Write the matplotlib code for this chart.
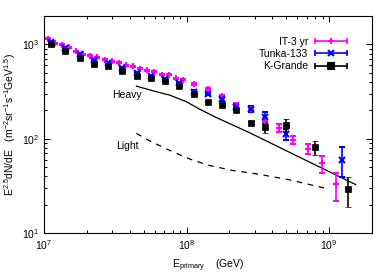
import matplotlib
matplotlib.use('Agg')
import matplotlib.pyplot as plt
import numpy as np
from matplotlib.lines import Line2D
from matplotlib.legend_handler import HandlerLine2D, HandlerTuple

plt.rcParams['font.family'] = ['Liberation Sans', 'DejaVu Sans']
plt.rcParams['mathtext.fontset'] = 'custom'
plt.rcParams['mathtext.rm'] = 'Liberation Sans'
plt.rcParams['mathtext.it'] = 'Liberation Sans:italic'
plt.rcParams['font.size'] = 7.5

# IceTop 3 yr (log10 E/GeV, flux)
it_logE = [7.025, 7.075, 7.125, 7.175, 7.225, 7.275, 7.325, 7.375, 7.425, 7.475,
           7.525, 7.575, 7.625, 7.675, 7.725, 7.775, 7.825, 7.875, 7.925, 7.975,
           8.05, 8.15, 8.25, 8.35, 8.45, 8.55, 8.65, 8.75, 8.85, 8.95, 9.05]
it_flux = [1148, 1032, 993, 929, 843, 790, 760, 729, 690, 662,
           636, 601, 586, 552, 529, 514, 479, 477, 437, 422,
           377, 333, 283, 228, 205, 155, 131, 97.5, 78.5, 54.6, 32.8]
it_err = [15, 14, 13, 12, 11, 10, 10, 9, 9, 8,
          8, 8, 7, 7, 7, 7, 6, 6, 6, 6,
          9, 9, 10, 11, 12, 12, 12, 10, 10, 11, 11]

# Tunka-133
tk_logE = [7.05, 7.15, 7.25, 7.35, 7.45, 7.55, 7.65, 7.75, 7.85, 7.95,
           8.05, 8.15, 8.25, 8.35, 8.45, 8.55, 8.7, 9.09]
tk_flux = [1050, 914, 791, 690, 636, 563, 495, 461, 433, 388,
           316, 298, 262, 217, 206, 168, 112, 60]
tk_err = [30, 25, 20, 17, 15, 13, 11, 10, 10, 9,
          9, 9, 10, 16, 15, 25, 14, 21]

# KASCADE-Grande
kg_logE = [7.05, 7.15, 7.25, 7.35, 7.45, 7.55, 7.65, 7.75, 7.85, 7.95,
           8.05, 8.15, 8.25, 8.35, 8.45, 8.55, 8.7, 8.9, 9.13]
kg_flux = [1005, 843, 718, 627, 586, 520, 465, 440, 412, 360,
           297, 243, 230, 203, 147, 132, 140, 81, 29]
kg_err = [25, 20, 18, 15, 14, 12, 11, 10, 10, 9,
          8, 7, 7, 7, 6, 17, 20, 13, 10]

# model curves
heavy_logE = [7.648, 7.788, 7.881, 7.998, 8.091, 8.208, 8.441, 8.72, 9.187]
heavy_flux = [361, 315, 290, 247, 206, 168, 116, 72, 32.6]
light_logE = [7.648, 7.741, 7.858, 8.021, 8.161, 8.324, 8.487, 8.72, 8.988]
light_flux = [114, 95, 78, 61, 52, 46, 42.5, 36.7, 29.5]

fig = plt.figure(figsize=(3.82, 2.77), dpi=100)
ax = fig.add_axes([0.1152, 0.1588, 0.8586, 0.7834])

ax.plot(10 ** np.array(heavy_logE), heavy_flux, color='black', lw=0.9)
ax.plot(10 ** np.array(light_logE), light_flux, color='black', lw=0.9,
        linestyle=(0, (4.5, 4.5)))

ax.errorbar(10 ** np.array(it_logE), it_flux, yerr=it_err, fmt='+', color='#ff00ff',
            ms=5, mew=1.5, elinewidth=1.2, capsize=2, capthick=1.2)
ax.errorbar(10 ** np.array(tk_logE), tk_flux, yerr=tk_err, fmt='x', color='#0000ff',
            ms=4, mew=1.5, elinewidth=1.2, capsize=2, capthick=1.2)
ax.errorbar(10 ** np.array(kg_logE), kg_flux, yerr=kg_err, fmt='s', color='black',
            ms=4.8, mew=0.5, elinewidth=1.2, capsize=2, capthick=1.2)

ax.text(3.8e7, 290, 'Heavy', ha='center', va='center', fontsize=7.5)
ax.text(3.86e7, 84, 'Light', ha='center', va='center', fontsize=7.5)

ax.set_xscale('log')
ax.set_yscale('log')
ax.set_xlim(1e7, 2e9)
ax.set_ylim(10, 2000)
ax.tick_params(which='both', direction='in', top=True, right=True, labelsize=7.5)
ax.tick_params(which='major', length=4, width=0.7)
ax.tick_params(which='minor', length=2.2, width=0.7)
for s in ax.spines.values():
    s.set_linewidth(0.8)

ax.set_xlabel(r'E$_{\mathregular{primary}}$    (GeV)', fontsize=7.5)
ax.set_ylabel(r'E$^{\mathregular{2.5}}$dN/dE   (m$^{\mathregular{-2}}$sr$^{\mathregular{-1}}$'
              r's$^{\mathregular{-1}}$GeV$^{\mathregular{1.5}}$)', fontsize=7.5, labelpad=3)

# legend with gnuplot-like error bar samples
handles = []
hmap = {}
for c, m, ms in [('#ff00ff', '+', 5), ('#0000ff', 'x', 4), ('black', 's', 4)]:
    main = Line2D([], [], color=c, marker=m, ms=ms, mew=1.5, lw=1.2)
    caps = Line2D([], [], color=c, marker='|', ms=5, mew=1.2, linestyle='none')
    hmap[main] = HandlerLine2D(numpoints=1)
    hmap[caps] = HandlerLine2D(numpoints=2, marker_pad=0)
    handles.append((main, caps))
hmap[tuple] = HandlerTuple(ndivide=1, pad=0)
leg = ax.legend(handles, ['IT-3 yr', 'Tunka-133', 'K-Grande'], handler_map=hmap,
                loc='upper right', bbox_to_anchor=(0.924, 0.905), frameon=False,
                markerfirst=False, borderpad=0, borderaxespad=0, handlelength=3.1,
                handletextpad=0.6, labelspacing=0.22, fontsize=7.5)

fig.savefig('out.png', dpi=100)
